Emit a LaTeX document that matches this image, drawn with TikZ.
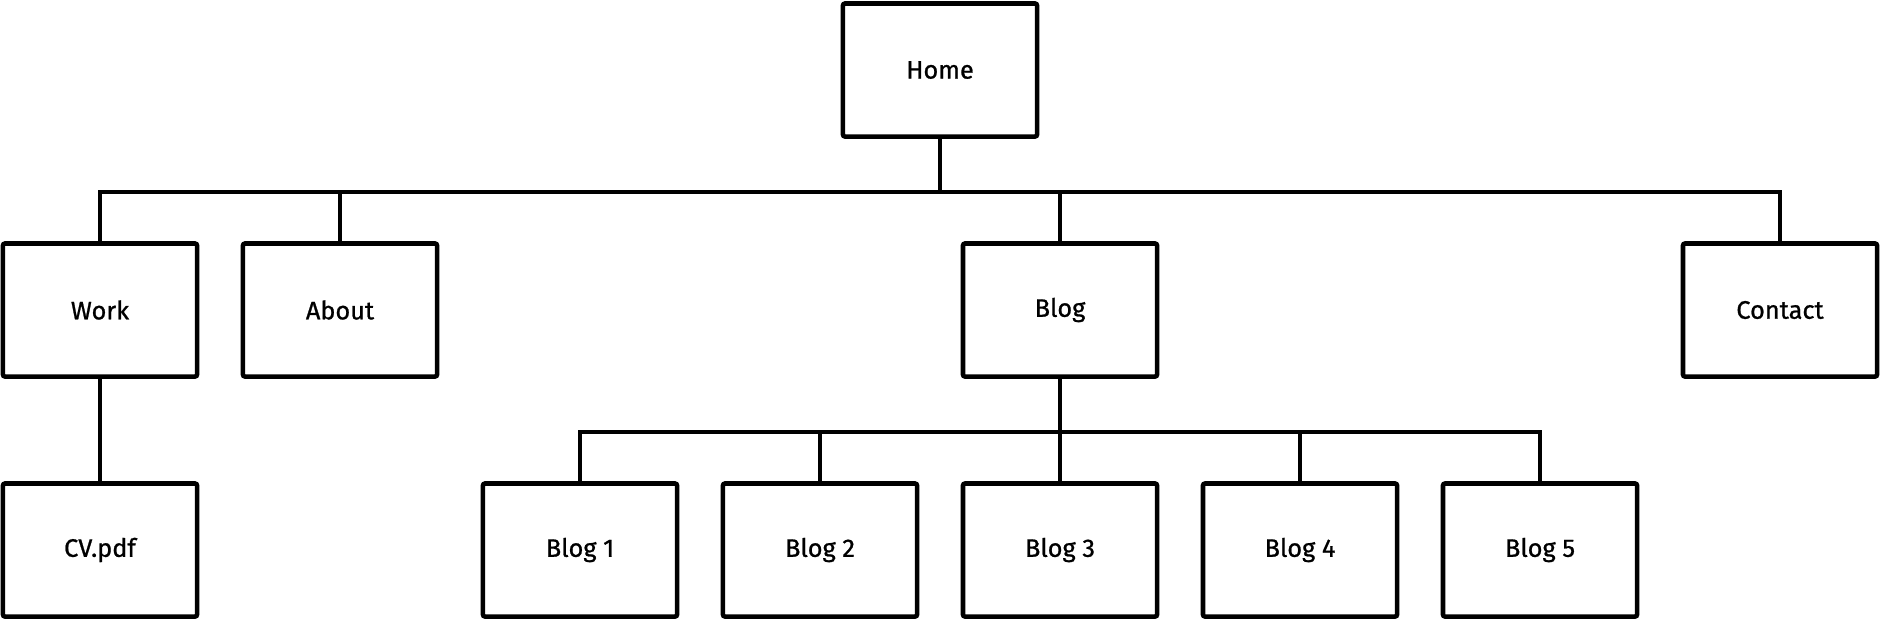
\documentclass[tikz,border=0pt]{standalone}
\usepackage{fontspec}
\setmainfont{Fira Sans}
\newfontfamily\pagefont[FakeBold=0.9]{Fira Sans}
\begin{document}
\begin{tikzpicture}[x=0.01cm,y=-0.01cm,
        page/.style={draw,line width=1.3pt,rounded corners=0.6pt,minimum width=1.94cm,minimum height=1.33cm,inner sep=0pt,font=\pagefont\fontsize{7.2pt}{8pt}\selectfont},
        link/.style={line width=1pt}]
    \useasboundingbox (0,0) rectangle (1880,620);

    % top level
    \node[page] (home) at (940,70) {Home};

    % second level
    \node[page] (work) at (100,310) {Work};
    \node[page] (about) at (340,310) {About};
    \node[page] (blog) at (1060,310) {Blog};
    \node[page] (contact) at (1780,310) {Contact};

    % third level
    \node[page] (cv) at (100,550) {CV.pdf};
    \foreach \i/\x in {1/580,2/820,3/1060,4/1300,5/1540}
        \node[page] (blog\i) at (\x,550) {Blog \i};

    % connectors
    \foreach \n in {work,about,blog,contact}
        \draw[link] (home.south) -- ++(0,53) -| (\n.north);
    \foreach \i in {1,...,5}
        \draw[link] (blog.south) -- ++(0,53) -| (blog\i.north);
    \draw[link] (work.south) -- (cv.north);
\end{tikzpicture}
\end{document}
